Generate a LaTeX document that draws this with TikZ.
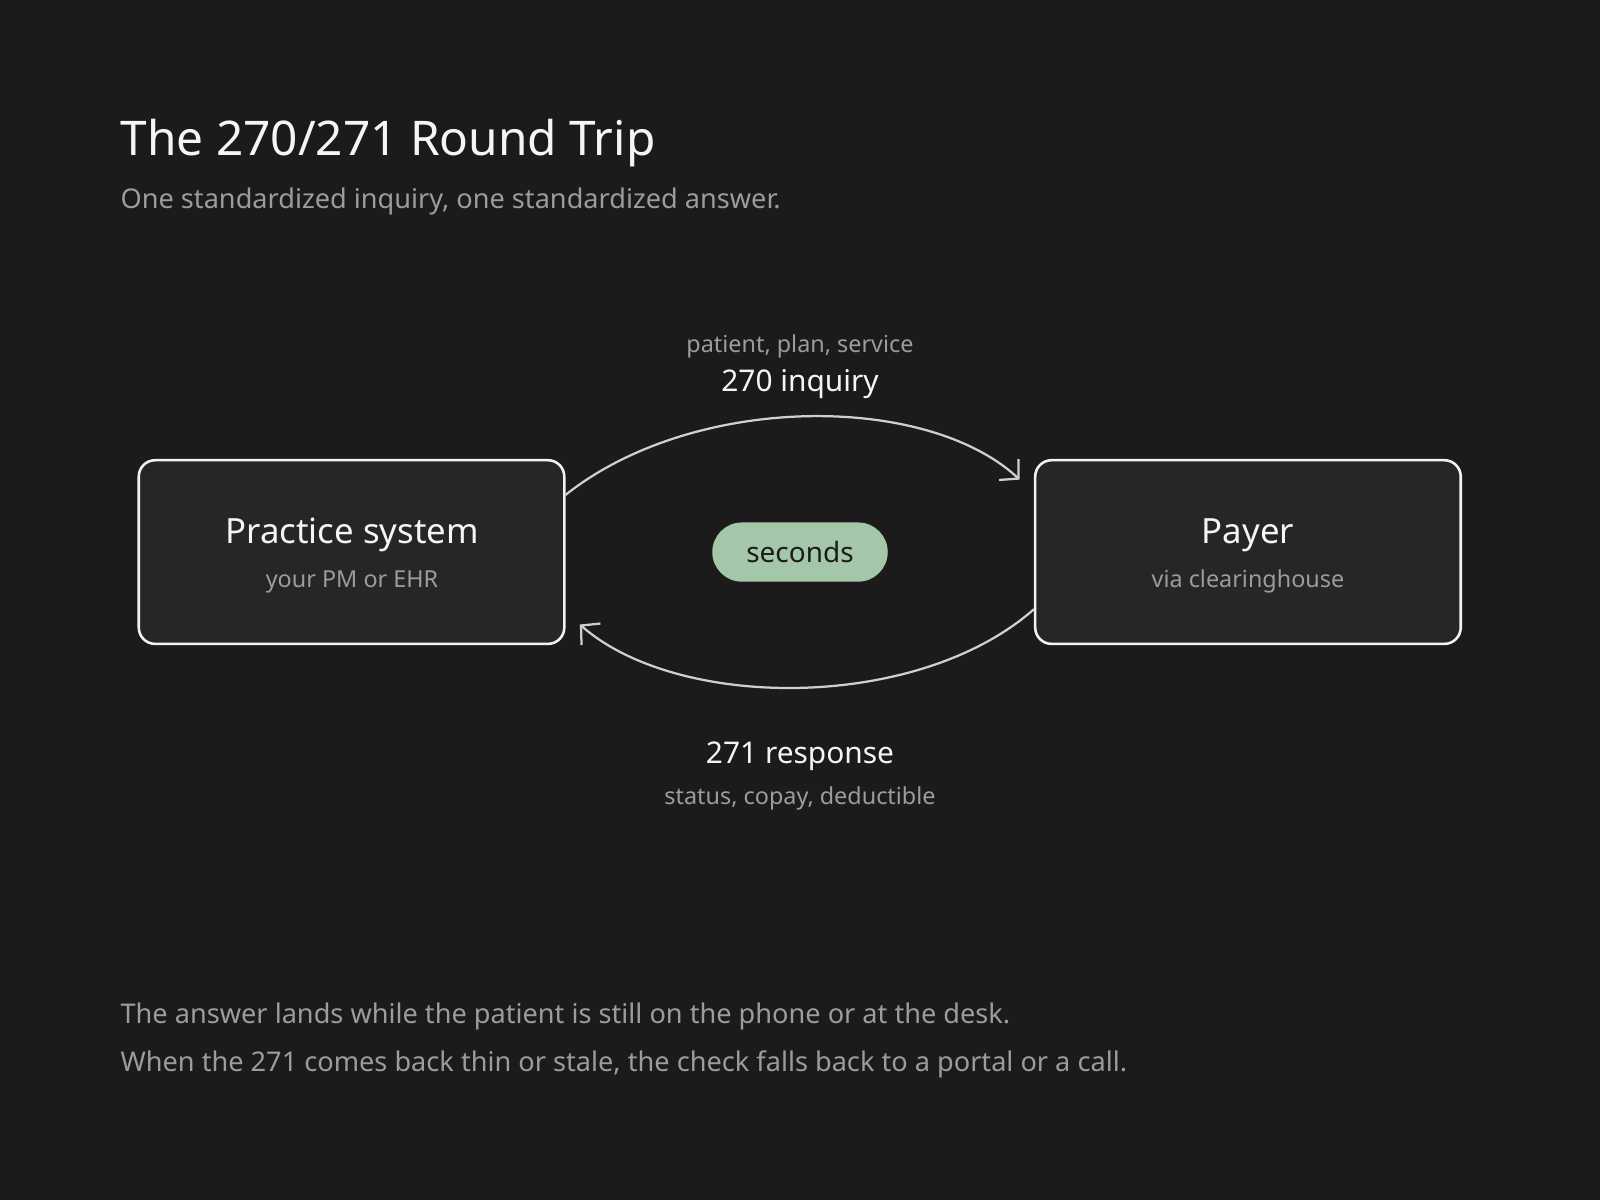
\documentclass[tikz,border=0pt]{standalone}
\usepackage{fontspec}
\setmainfont{Noto Sans}
\usetikzlibrary{arrows.meta,calc}
\definecolor{bg}{HTML}{1B1B1B}
\definecolor{boxfill}{HTML}{262626}
\definecolor{boxline}{HTML}{F2F2F2}
\definecolor{arrowc}{HTML}{CFCFCF}
\definecolor{graytxt}{HTML}{9C9C9C}
\definecolor{whitetxt}{HTML}{F5F5F5}
\definecolor{pill}{HTML}{A5C7A9}
\tikzset{
  sysbox/.style={draw=boxline, fill=boxfill, line width=2.5bp, rounded corners=16bp,
    minimum width=417bp, minimum height=180bp, inner sep=0pt},
  pillbox/.style={fill=pill, rounded corners=29bp, minimum width=172bp, minimum height=58bp,
    inner sep=0pt, text=bg, font=\fontsize{27.5}{31}\selectfont},
  flow/.style={draw=arrowc, line width=2.2bp, -{Straight Barb[length=13bp,width=28bp,line width=2.2bp]}},
  titletxt/.style={anchor=base west, inner sep=0pt, text=whitetxt, font=\fontsize{47}{54}\selectfont},
  subtxt/.style={anchor=base west, inner sep=0pt, text=graytxt, font=\fontsize{26.7}{30}\selectfont},
  lbl/.style={anchor=base, inner sep=0pt, text=whitetxt, font=\fontsize{29.4}{34}\selectfont},
  sublbl/.style={anchor=base, inner sep=0pt, text=graytxt, font=\fontsize{23}{26}\selectfont},
  boxtitle/.style={anchor=base, inner sep=0pt, text=whitetxt, font=\fontsize{34.2}{38}\selectfont},
}
\begin{document}
\begin{tikzpicture}[x=1bp, y=-1bp]
\fill[bg] (0,0) rectangle (1568,1176);
\useasboundingbox (0,0) rectangle (1568,1176);

\node[titletxt] (title) at (118,152) {The 270/271 Round Trip};
\node[subtxt] (subtitle) at (118,204) {One standardized inquiry, one standardized answer.};

\node[sysbox] (ps) at (344.5,541) {};
\node[sysbox] (pay) at (1223,541) {};
\node[boxtitle] (pst) at (345,533) {Practice system};
\node[sublbl] (pss) at (345,576) {your PM or EHR};
\node[boxtitle] (payt) at (1223,533) {Payer};
\node[sublbl] (pays) at (1223,576) {via clearinghouse};

\node[pillbox] (sec) at (784,541) {seconds};

\node[sublbl] (inqs) at (784,345) {patient, plan, service};
\node[lbl] (inq) at (784,384) {270 inquiry};
\node[lbl] (resp) at (784,748) {271 response};
\node[sublbl] (resps) at (784,788) {status, copay, deductible};

\draw[flow] ($(ps.east)+(0,-56)$) .. controls (680,385) and (908,385) .. ($(pay.west)+(-14,-71)$);
\draw[flow] ($(pay.west)+(0,56)$) .. controls (900,697) and (665,697) .. ($(ps.east)+(14,71)$);

\node[subtxt] (foot1) at (118,1003) {The answer lands while the patient is still on the phone or at the desk.};
\node[subtxt] (foot2) at (118,1050) {When the 271 comes back thin or stale, the check falls back to a portal or a call.};
\end{tikzpicture}
\end{document}
